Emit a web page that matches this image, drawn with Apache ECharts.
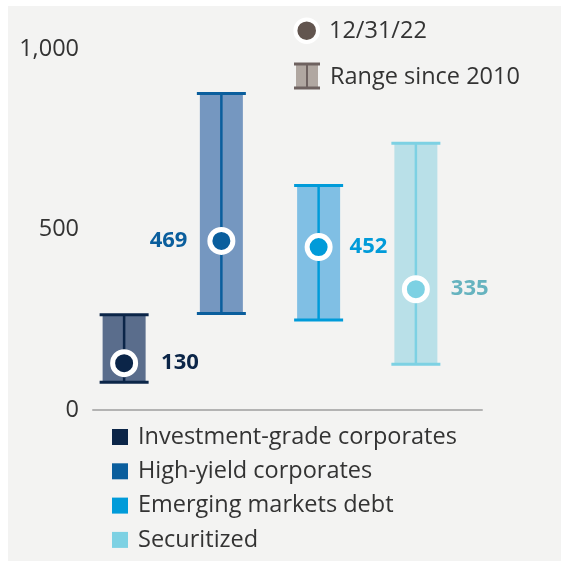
<!DOCTYPE html>
<html>
<head>
<meta charset="utf-8">
<script src="https://cdn.jsdelivr.net/npm/echarts@6/dist/echarts.min.js"></script>
<style>
  html, body { margin: 0; padding: 0; background: #ffffff; }
  #main { width: 561px; height: 561px; }
</style>
</head>
<body>
<div id="main"></div>
<script>
// categories (bottom legend order)
var categories = ['Investment-grade corporates', 'High-yield corporates', 'Emerging markets debt', 'Securitized'];
// range since 2010 (low / high)
var rangeLow = [77, 268, 250, 127];
var rangeHigh = [264, 878, 623, 740];
// value at 12/31/22
var current = [130, 469, 452, 335];
var yTicks = [0, 500, 1000];

var mainColor = ['#0b2548', '#0a5e9d', '#009bd9', '#7dd1e3'];
var fillColor = ['#5a6d8c', '#7597c0', '#80bfe4', '#b9e0e8'];
var labelColor = ['#0b2548', '#0a5e9d', '#009bd9', '#66b3bf'];
var labelSide = ['right', 'left', 'right', 'right'];
var labelDist = [23, 20, 17, 21];

var fontFam = '"Open Sans", Lato, sans-serif';
var chart = echarts.init(document.getElementById('main'));

// one custom series per category so the legend picks them up
var series = categories.map(function (name, i) {
  return {
    name: name,
    type: 'custom',
    color: mainColor[i],
    z: 2,
    data: [[i + 1, rangeLow[i], rangeHigh[i]]],
    renderItem: function (params, api) {
      var lo = api.coord([api.value(0), api.value(1)]);
      var hi = api.coord([api.value(0), api.value(2)]);
      var x = lo[0];
      var fw = 43, cw = 49;
      return {
        type: 'group',
        children: [
          { type: 'rect', shape: { x: x - fw / 2, y: hi[1], width: fw, height: lo[1] - hi[1] },
            style: { fill: fillColor[i] } },
          { type: 'line', shape: { x1: x, y1: hi[1], x2: x, y2: lo[1] },
            style: { stroke: mainColor[i], lineWidth: 2.5 } },
          { type: 'line', shape: { x1: x - cw / 2, y1: hi[1], x2: x + cw / 2, y2: hi[1] },
            style: { stroke: mainColor[i], lineWidth: 3 } },
          { type: 'line', shape: { x1: x - cw / 2, y1: lo[1], x2: x + cw / 2, y2: lo[1] },
            style: { stroke: mainColor[i], lineWidth: 3 } }
        ]
      };
    }
  };
});

series.push({
  name: '12/31/22',
  type: 'scatter',
  z: 5,
  symbolSize: 23,
  data: current.map(function (v, i) {
    return {
      value: [i + 1, v],
      itemStyle: { color: mainColor[i], borderColor: '#ffffff', borderWidth: 5, opacity: 1 },
      label: {
        show: true,
        position: labelSide[i],
        distance: labelDist[i],
        color: labelColor[i],
        fontFamily: fontFam,
        fontWeight: 'bold',
        fontSize: 22
      }
    };
  }),
  label: {
    formatter: function (p) { return p.value[1]; }
  }
});

var option = {
  animation: false,
  backgroundColor: '#ffffff',
  grid: { left: 93, right: 79, top: 49.5, bottom: 151 },
  xAxis: {
    type: 'value',
    min: 0.68,
    max: 4.68,
    axisLine: { show: true, onZero: true, lineStyle: { color: '#b3b3b3', width: 2 } },
    axisTick: { show: false },
    axisLabel: { show: false },
    splitLine: { show: false }
  },
  yAxis: {
    type: 'value',
    min: yTicks[0],
    max: yTicks[yTicks.length - 1],
    interval: 500,
    axisLine: { show: false },
    axisTick: { show: false },
    splitLine: { show: false },
    axisLabel: {
      margin: 14,
      color: '#333333',
      fontFamily: fontFam,
      fontSize: 23.5,
      formatter: function (v) { return v.toLocaleString('en-US'); }
    }
  },
  legend: {
    data: categories,
    orient: 'vertical',
    left: 107,
    top: 420,
    itemWidth: 16,
    itemHeight: 16,
    itemGap: 10.3,
    icon: 'rect',
    selectedMode: false,
    textStyle: { color: '#333333', fontFamily: fontFam, fontSize: 23.5, lineHeight: 24, padding: [0, 0, 0, 5] }
  },
  graphic: [
    { type: 'rect', z: -100, shape: { x: 8, y: 6, width: 553, height: 555 }, style: { fill: '#f3f3f2' } },
    // top legend: 12/31/22
    { type: 'circle', shape: { cx: 306.7, cy: 30.7, r: 11.3 }, style: { fill: '#62554f', stroke: '#ffffff', lineWidth: 4 } },
    { type: 'text', x: 329, y: 31, style: { text: '12/31/22', fill: '#333333', font: '23.5px ' + fontFam, textVerticalAlign: 'middle' } },
    // top legend: range since 2010
    { type: 'rect', shape: { x: 296, y: 64, width: 22, height: 24 }, style: { fill: '#b0a7a1' } },
    { type: 'line', shape: { x1: 307, y1: 64, x2: 307, y2: 88 }, style: { stroke: '#6e6260', lineWidth: 2 } },
    { type: 'line', shape: { x1: 294, y1: 64, x2: 320, y2: 64 }, style: { stroke: '#6e6260', lineWidth: 3 } },
    { type: 'line', shape: { x1: 294, y1: 88, x2: 320, y2: 88 }, style: { stroke: '#6e6260', lineWidth: 3 } },
    { type: 'text', x: 330, y: 77, style: { text: 'Range since 2010', fill: '#333333', font: '23.5px ' + fontFam, textVerticalAlign: 'middle' } }
  ],
  series: series
};

chart.setOption(option);
</script>
</body>
</html>
